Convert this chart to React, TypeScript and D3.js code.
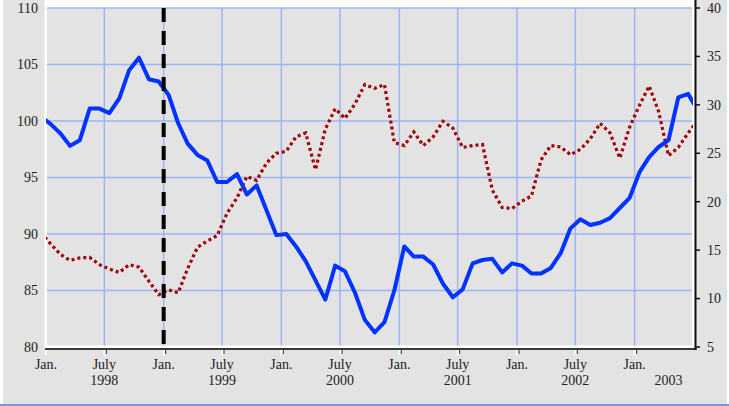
import React, { useEffect, useRef } from "react";
import * as d3 from "d3";

// monthly observations from Dec 1997 to Jul 2003 (the first and last sit just outside the frame)
const firstMonth = "1997-12";

// left axis series (solid blue)
const indexValues = [
    100.4,
    99.7, 98.9, 97.8, 98.3, 101.1, 101.1, 100.7, 102.0, 104.5, 105.6, 103.7, 103.5,
    102.3, 99.8, 98.0, 97.0, 96.5, 94.6, 94.6, 95.3, 93.5, 94.3, 92.1, 89.9,
    90.0, 88.9, 87.6, 85.9, 84.2, 87.2, 86.7, 84.8, 82.4, 81.3, 82.2, 85.0,
    88.9, 88.0, 88.0, 87.3, 85.6, 84.4, 85.1, 87.4, 87.7, 87.8, 86.6, 87.4,
    87.2, 86.5, 86.5, 87.0, 88.3, 90.5, 91.3, 90.8, 91.0, 91.4, 92.3, 93.2,
    95.5, 96.8, 97.7, 98.3, 102.1, 102.4, 100.9
];

// right axis series (dotted red)
const rateValues = [
    16.8,
    15.6, 14.55, 13.95, 14.2, 14.25, 13.5, 13.05, 12.7, 13.5, 13.25, 11.8, 10.4,
    10.9, 10.6, 13.1, 15.3, 15.95, 16.5, 18.8, 20.4, 22.6, 22.2, 24.0, 25.0,
    25.2, 26.7, 27.1, 23.3, 27.5, 29.6, 28.6, 30.1, 32.1, 31.7, 32.1, 26.1,
    25.8, 27.2, 25.8, 26.7, 28.3, 27.6, 25.6, 25.8, 25.9, 21.2, 19.4, 19.3,
    20.05, 20.6, 24.3, 25.8, 25.65, 24.85, 25.4, 26.5, 28.1, 27.1, 24.5, 27.7,
    30.0, 31.95, 29.3, 24.75, 25.6, 27.1, 28.4
];

const leftTicks = [80, 85, 90, 95, 100, 105, 110];
const rightTicks = [5, 10, 15, 20, 25, 30, 35, 40];
const axisStart = "1998-01";
const axisEnd = "2003-07";
const tickMonths = [
    "1998-01", "1998-07", "1999-01", "1999-07", "2000-01", "2000-07",
    "2001-01", "2001-07", "2002-01", "2002-07", "2003-01"
];
const eventMonth = "1999-01";
const trailingYear = { month: "2003-04", text: "2003" };

const parseMonth = d3.timeParse("%Y-%m");

export default function App() {
    const svgRef = useRef(null);

    useEffect(() => {
        const width = 729;
        const height = 406;
        const plot = { left: 46, right: 693, top: 8, bottom: 347 };
        const font = "'Liberation Serif', 'Times New Roman', serif";

        const svg = d3.select(svgRef.current)
            .attr("width", width)
            .attr("height", height);
        svg.selectAll("*").remove();

        const x = d3.scaleTime()
            .domain([parseMonth(axisStart), parseMonth(axisEnd)])
            .range([plot.left, plot.right]);
        const yLeft = d3.scaleLinear().domain([80, 110]).range([plot.bottom, plot.top]);
        const yRight = d3.scaleLinear().domain([5, 40]).range([plot.bottom, plot.top]);

        // points sit in the middle of their month
        const start = parseMonth(firstMonth);
        const months = indexValues.map((_, i) => d3.timeMonth.offset(start, i));
        const mid = (d: Date) => new Date((+d + +d3.timeMonth.offset(d, 1)) / 2);

        // background
        svg.append("rect").attr("x", 0).attr("y", 0).attr("width", width).attr("height", height).attr("fill", "#fff");
        svg.append("rect").attr("x", 3).attr("y", 0).attr("width", 724).attr("height", 404).attr("fill", "#e3e3e3");
        svg.append("line")
            .attr("x1", 0).attr("x2", width).attr("y1", 405).attr("y2", 405)
            .attr("stroke", "#4d72d4").attr("stroke-width", 1.5);

        // plot frame: white border, gray inside
        svg.append("rect")
            .attr("x", plot.left - 1.5).attr("y", 0)
            .attr("width", plot.right - plot.left + 3).attr("height", plot.bottom + 1)
            .attr("fill", "#fff");
        svg.append("rect")
            .attr("x", plot.left + 1).attr("y", plot.top)
            .attr("width", plot.right - plot.left - 2).attr("height", plot.bottom - plot.top - 1.5)
            .attr("fill", "#e3e3e3");

        // grid
        const gridColor = "#9db5f6";
        svg.append("g").selectAll("line")
            .data(leftTicks.filter(v => v > 80))
            .join("line")
            .attr("x1", plot.left + 1).attr("x2", plot.right - 1)
            .attr("y1", d => yLeft(d)).attr("y2", d => yLeft(d))
            .attr("stroke", gridColor).attr("stroke-width", 1.5);
        svg.append("g").selectAll("line")
            .data(tickMonths.slice(1))
            .join("line")
            .attr("x1", d => x(parseMonth(d))).attr("x2", d => x(parseMonth(d)))
            .attr("y1", plot.top).attr("y2", plot.bottom - 1.5)
            .attr("stroke", gridColor).attr("stroke-width", 1.5);

        // axes lines
        svg.append("line")
            .attr("x1", plot.left - 1).attr("x2", plot.right + 3.5)
            .attr("y1", plot.bottom + 2).attr("y2", plot.bottom + 2)
            .attr("stroke", "#3a3a3a").attr("stroke-width", 2);
        svg.append("line")
            .attr("x1", plot.right + 2.5).attr("x2", plot.right + 2.5)
            .attr("y1", 0).attr("y2", plot.bottom + 3)
            .attr("stroke", "#111").attr("stroke-width", 2);

        // bottom ticks (white with a dark edge)
        const bt = svg.append("g");
        bt.selectAll("line.w")
            .data(tickMonths)
            .join("line")
            .attr("class", "w")
            .attr("x1", d => x(parseMonth(d))).attr("x2", d => x(parseMonth(d)))
            .attr("y1", plot.bottom + 3).attr("y2", plot.bottom + 8)
            .attr("stroke", "#fff").attr("stroke-width", 2);
        bt.selectAll("line.k")
            .data(tickMonths.slice(1))
            .join("line")
            .attr("class", "k")
            .attr("x1", d => x(parseMonth(d)) + 2).attr("x2", d => x(parseMonth(d)) + 2)
            .attr("y1", plot.bottom + 3).attr("y2", plot.bottom + 7)
            .attr("stroke", "#333").attr("stroke-width", 1);

        // right ticks
        svg.append("g").selectAll("line")
            .data(rightTicks)
            .join("line")
            .attr("x1", plot.right + 3).attr("x2", plot.right + 7)
            .attr("y1", d => yRight(d)).attr("y2", d => yRight(d))
            .attr("stroke", "#111").attr("stroke-width", 1.5);

        // tick labels
        svg.append("g").selectAll("text")
            .data(leftTicks)
            .join("text")
            .attr("x", 38).attr("y", d => yLeft(d)).attr("dy", "0.35em")
            .attr("text-anchor", "end")
            .style("font-family", font).style("font-size", "14px").attr("fill", "#222")
            .text(d => d);
        svg.append("g").selectAll("text")
            .data(rightTicks)
            .join("text")
            .attr("x", 707).attr("y", d => yRight(d)).attr("dy", "0.35em")
            .attr("text-anchor", "start")
            .style("font-family", font).style("font-size", "14px").attr("fill", "#222")
            .text(d => d);

        const xl = svg.append("g")
            .style("font-family", font).style("font-size", "14px").attr("fill", "#222")
            .attr("text-anchor", "middle");
        tickMonths.forEach(m => {
            const d = parseMonth(m);
            const isJan = d.getMonth() === 0;
            xl.append("text").attr("x", x(d)).attr("y", 369).text(isJan ? "Jan." : "July");
            if (!isJan) {
                xl.append("text").attr("x", x(d)).attr("y", 385).text(d.getFullYear());
            }
        });
        xl.append("text")
            .attr("x", x(mid(parseMonth(trailingYear.month))))
            .attr("y", 385)
            .text(trailingYear.text);

        // clip for series
        svg.append("clipPath").attr("id", "plotClip")
            .append("rect")
            .attr("x", plot.left).attr("y", 0)
            .attr("width", plot.right - plot.left).attr("height", plot.bottom);

        const rateLine = d3.line<number>()
            .x((_, i) => x(mid(months[i])))
            .y(d => yRight(d));
        svg.append("path")
            .attr("clip-path", "url(#plotClip)")
            .attr("d", rateLine(rateValues))
            .attr("fill", "none")
            .attr("stroke", "#a00000")
            .attr("stroke-width", 3.2)
            .attr("stroke-dasharray", "3 3");

        const indexLine = d3.line<number>()
            .x((_, i) => x(mid(months[i])))
            .y(d => yLeft(d));
        svg.append("path")
            .attr("clip-path", "url(#plotClip)")
            .attr("d", indexLine(indexValues))
            .attr("fill", "none")
            .attr("stroke", "#0033ff")
            .attr("stroke-width", 4)
            .attr("stroke-linejoin", "round");

        // event marker
        const ex = x(parseMonth(eventMonth));
        svg.append("line")
            .attr("x1", ex).attr("x2", ex)
            .attr("y1", plot.top).attr("y2", plot.bottom)
            .attr("stroke", "#000")
            .attr("stroke-width", 4)
            .attr("stroke-dasharray", "14 9");
    }, []);

    return <svg ref={svgRef} style={{ position: "absolute", left: 0, top: 0 }} />;
}
